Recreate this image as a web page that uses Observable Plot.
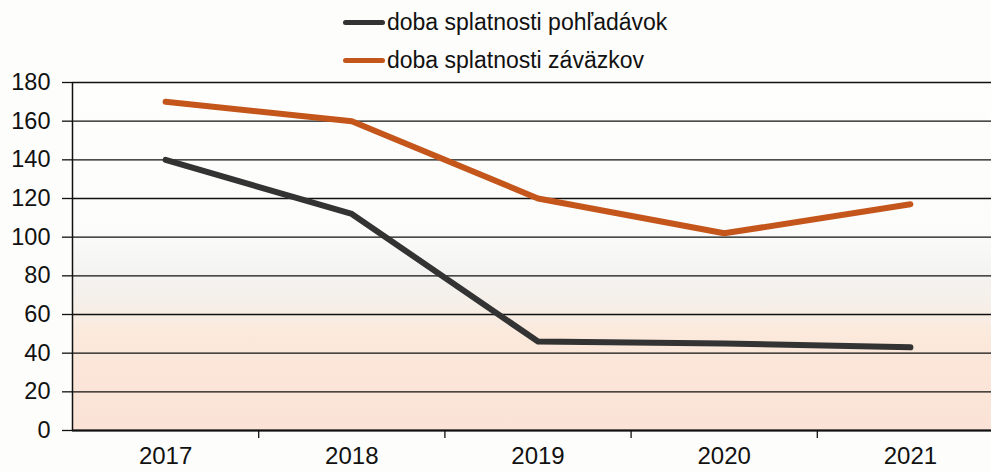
<!DOCTYPE html>
<html>
<head>
<meta charset="utf-8">
<script src="https://cdn.jsdelivr.net/npm/d3@7"></script>
<script src="https://cdn.jsdelivr.net/npm/@observablehq/plot@0.6"></script>
<style>
  html, body { margin: 0; padding: 0; background: #fdfdfb; }
  #wrap { position: relative; width: 991px; height: 472px; overflow: hidden; font-family: "Liberation Sans", Arial, sans-serif; }
  #legend { position: absolute; left: 0; top: 0; width: 991px; height: 72px; z-index: 2; }
  .row { position: absolute; left: 343px; display: flex; align-items: center; font-size: 23px; color: #111; white-space: nowrap; }
  .sw { width: 42px; height: 5px; border-radius: 3px; margin-right: 2px; }
  #chart svg { display: block; }
</style>
</head>
<body>
<div id="wrap">
  <div id="chart"></div>
  <div id="legend"></div>
</div>
<script>
const years = [2017, 2018, 2019, 2020, 2021];
const seriesNames = ["doba splatnosti pohľadávok", "doba splatnosti záväzkov"];
const pohladavok = [140, 112, 46, 45, 43];
const zavazkov = [170, 160, 120, 102, 117];
const seriesColors = ["#333333", "#c4561c"];
const yTicks = [0, 20, 40, 60, 80, 100, 120, 140, 160, 180];

const data = [];
years.forEach((yr, i) => {
  data.push({year: yr, value: pohladavok[i], series: seriesNames[0]});
  data.push({year: yr, value: zavazkov[i], series: seriesNames[1]});
});
const boundaries = years.slice(0, -1).map(y => y + 0.5);

// legend
const legend = document.getElementById("legend");
seriesNames.forEach((name, i) => {
  const row = document.createElement("div");
  row.className = "row";
  row.style.top = (i === 0 ? 9 : 47) + "px";
  const sw = document.createElement("div");
  sw.className = "sw";
  sw.style.background = seriesColors[i];
  row.appendChild(sw);
  const t = document.createElement("span");
  t.textContent = name;
  row.appendChild(t);
  legend.appendChild(row);
});

const chart = Plot.plot({
  width: 991,
  height: 472,
  marginTop: 82,
  marginBottom: 42,
  marginLeft: 72,
  marginRight: 0,
  style: {fontFamily: "'Liberation Sans', Arial, sans-serif", fontSize: "24px", color: "#111", background: "transparent"},
  x: {type: "linear", domain: [years[0] - 0.5, years[years.length - 1] + 0.5], range: [72, 1003]},
  y: {domain: [0, 180]},
  color: {domain: seriesNames, range: seriesColors},
  marks: [
    Plot.frame({fill: "url(#bggrad)", stroke: null}),
    Plot.gridY(yTicks, {stroke: "#111", strokeOpacity: 1, strokeWidth: 1.3}),
    Plot.ruleX([years[0] - 0.5], {stroke: "#111", strokeWidth: 1.5}),
    Plot.ruleY([0], {stroke: "#111", strokeWidth: 2}),
    Plot.axisY(yTicks, {tickSize: 10, tickPadding: 12, label: null, fontSize: 23.5, stroke: "#111", strokeWidth: 1.3}),
    Plot.axisX(boundaries, {tickSize: 8, tickFormat: () => "", label: null, stroke: "#111", strokeWidth: 1.3}),
    Plot.axisX(years, {tickSize: 0, tickPadding: 16, tickFormat: d => String(d), label: null, fontSize: 24}),
    Plot.line(data, {x: "year", y: "value", z: "series", stroke: "series", strokeWidth: 6, strokeLinecap: "round", strokeLinejoin: "round"})
  ]
});

// gradient background
const svg = d3.select(chart);
const defs = svg.insert("defs", ":first-child");
const g = defs.append("linearGradient").attr("id", "bggrad").attr("x1", 0).attr("y1", 0).attr("x2", 0).attr("y2", 1);
[[0, "#fefefc"], [0.42, "#fcfcfa"], [0.55, "#f3f3f1"], [0.64, "#f6efe8"], [0.72, "#fbe9dc"], [0.85, "#fbe5d8"], [1, "#fae2d7"]]
  .forEach(([o, c]) => g.append("stop").attr("offset", o).attr("stop-color", c));

document.getElementById("chart").appendChild(chart);
</script>
</body>
</html>
